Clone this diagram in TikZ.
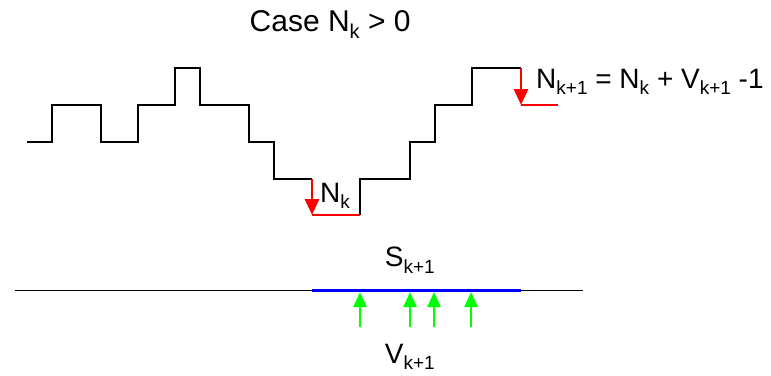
\documentclass[tikz,border=0pt]{standalone}
\usepackage{fontspec}
\setmainfont{Liberation Sans}
\usetikzlibrary{arrows.meta}
\newcommand{\subtx}[1]{\raisebox{-6.5pt}{\fontsize{19}{19}\selectfont #1}}
\newcommand{\subtxb}[1]{\raisebox{-7pt}{\fontsize{20}{20}\selectfont #1}}
\tikzset{
  lbl/.style={anchor=base west, inner sep=0pt, font=\fontsize{28}{30}\selectfont},
  titlelbl/.style={anchor=base west, inner sep=0pt, font=\fontsize{30}{32}\selectfont},
  stepline/.style={line width=1.8pt, black},
  redline/.style={line width=2.8pt, red},
  redarrow/.style={line width=2.8pt, red, -{Triangle[width=14pt,length=16pt]}},
  blueline/.style={line width=3.2pt, blue},
  greenarrow/.style={line width=2.4pt, green, -{Triangle[width=13pt,length=15pt]}},
  baseline/.style={line width=1.5pt, black}
}
\begin{document}
\begin{tikzpicture}[x=1pt,y=-1pt]
\useasboundingbox (0,0) rectangle (771,375);
% title
\node[titlelbl] (title) at (249.5,31) {Case N\subtxb{k} > 0};
% step profile (left part)
\draw[stepline] (27,142) -- (52,142) -- (52,105) -- (101,105) -- (101,142) -- (138,142)
  -- (138,105) -- (175,105) -- (175,68) -- (200,68) -- (200,105) -- (249,105)
  -- (249,142) -- (274,142) -- (274,179) -- (312,179);
% step profile (right part)
\draw[stepline] (360,215) -- (360,179) -- (410,179) -- (410,142) -- (435,142)
  -- (435,105) -- (472,105) -- (472,68) -- (521,68);
% red markers
\coordinate (a1) at (312,179);
\coordinate (a2) at (312,215);
\coordinate (a3) at (360,215);
\draw[redline] (a2) -- (a3);
\draw[redarrow] (a1) -- (a2);
\coordinate (b1) at (521,68);
\coordinate (b2) at (521,105);
\coordinate (b3) at (558,105);
\draw[redline] (b2) -- (b3);
\draw[redarrow] (b1) -- (b2);
% labels
\node[lbl] (nk) at (320,202) {N\subtx{k}};
\node[lbl] (eq) at (536,88) {N\subtx{k+1} = N\subtx{k} + V\subtx{k+1} -1};
% bottom line
\coordinate (l1) at (15,290.5);
\coordinate (l2) at (583,290.5);
\draw[baseline] (l1) -- (l2);
\coordinate (s1) at (312,290.5);
\coordinate (s2) at (521,290.5);
\draw[blueline] (s1) -- (s2);
\node[lbl] (S) at (384.7,266.5) {S\subtx{k+1}};
\foreach \xx/\nm in {360/g1,410/g2,434/g3,471/g4}{
  \coordinate (\nm t) at (\xx,327);
  \coordinate (\nm h) at (\xx,292);
  \draw[greenarrow] (\nm t) -- (\nm h);
}
\node[lbl] (V) at (384.7,363) {V\subtx{k+1}};
\end{tikzpicture}
\end{document}
